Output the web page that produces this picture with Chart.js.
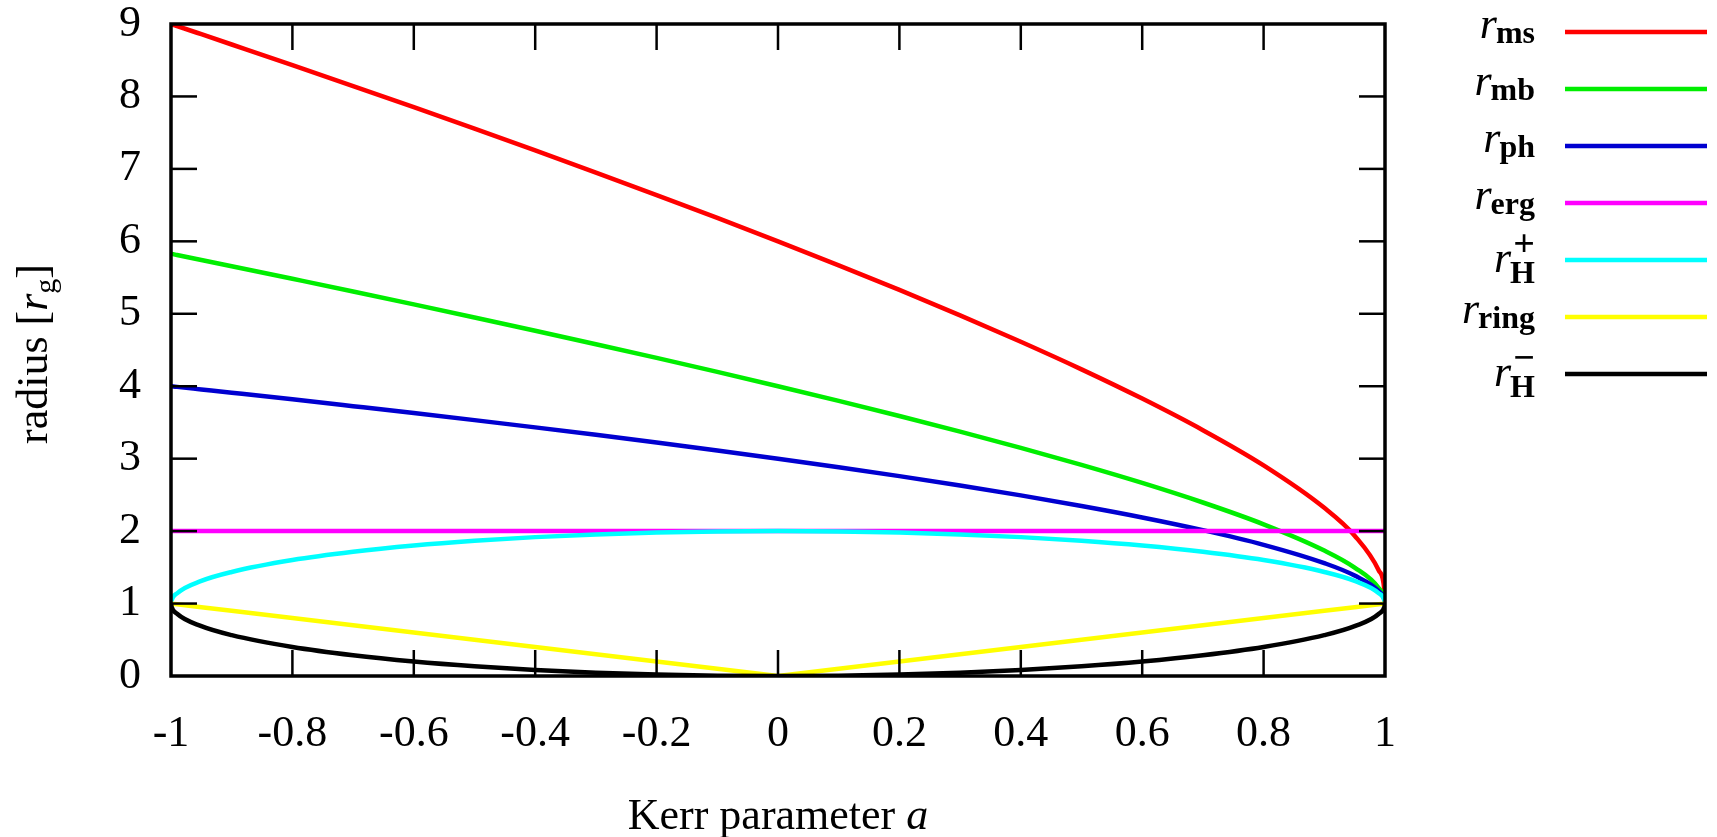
<!DOCTYPE html>
<html>
<head>
<meta charset="utf-8">
<script src="https://cdn.jsdelivr.net/npm/chart.js@4"></script>
<style>
html,body{margin:0;padding:0;background:#fff;overflow:hidden}
#wrap{position:relative;width:1717px;height:837px;background:#fff}
</style>
</head>
<body>
<div id="wrap"><canvas id="c"></canvas></div>
<script>
// ---- data ----
const kerrA = [-1, -0.999, -0.99, -0.95, -0.9, -0.8, -0.7, -0.6, -0.5, -0.4, -0.3, -0.2, -0.1, 0, 0.1, 0.2, 0.3, 0.4, 0.5, 0.6, 0.7, 0.8, 0.9, 0.95, 0.99, 0.999, 1];
const rMs   = [9, 8.997, 8.972, 8.859, 8.717, 8.432, 8.143, 7.851, 7.555, 7.254, 6.949, 6.639, 6.323, 6, 5.669, 5.329, 4.979, 4.614, 4.233, 3.829, 3.393, 2.907, 2.321, 1.937, 1.454, 1.182, 1];
const rMb   = [5.828, 5.827, 5.811, 5.743, 5.657, 5.483, 5.308, 5.130, 4.949, 4.766, 4.580, 4.391, 4.198, 4, 3.797, 3.589, 3.373, 3.149, 2.914, 2.665, 2.395, 2.094, 1.732, 1.497, 1.21, 1.064, 1];
const rPh   = [4, 3.999, 3.991, 3.955, 3.910, 3.819, 3.725, 3.630, 3.532, 3.432, 3.329, 3.223, 3.113, 3, 2.882, 2.759, 2.630, 2.493, 2.347, 2.189, 2.013, 1.811, 1.558, 1.386, 1.168, 1.052, 1];
const rErg  = [2, 2, 2, 2, 2, 2, 2, 2, 2, 2, 2, 2, 2, 2, 2, 2, 2, 2, 2, 2, 2, 2, 2, 2, 2, 2, 2];
const rHp   = [1, 1.045, 1.141, 1.312, 1.436, 1.6, 1.714, 1.8, 1.866, 1.917, 1.954, 1.980, 1.995, 2, 1.995, 1.980, 1.954, 1.917, 1.866, 1.8, 1.714, 1.6, 1.436, 1.312, 1.141, 1.045, 1];
const rRing = [1, 0.999, 0.99, 0.95, 0.9, 0.8, 0.7, 0.6, 0.5, 0.4, 0.3, 0.2, 0.1, 0, 0.1, 0.2, 0.3, 0.4, 0.5, 0.6, 0.7, 0.8, 0.9, 0.95, 0.99, 0.999, 1];
const rHm   = [1, 0.955, 0.859, 0.688, 0.564, 0.4, 0.286, 0.2, 0.134, 0.083, 0.046, 0.020, 0.005, 0, 0.005, 0.020, 0.046, 0.083, 0.134, 0.2, 0.286, 0.4, 0.564, 0.688, 0.859, 0.955, 1];

const seriesSubs = ['ms', 'mb', 'ph', 'erg', 'H', 'ring', 'H'];
const seriesSups = ['', '', '', '', '+', '', '\u2212'];
const seriesValues = [rMs, rMb, rPh, rErg, rHp, rRing, rHm];
const seriesColors = ['#ff0000', '#00ee00', '#0000d0', '#ff00ff', '#00ffff', '#ffff00', '#000000'];
const seriesStraight = [false, false, false, true, false, true, false];

const xTickValues = [-1, -0.8, -0.6, -0.4, -0.2, 0, 0.2, 0.4, 0.6, 0.8, 1];
const xTickLabels = ['-1', '-0.8', '-0.6', '-0.4', '-0.2', '0', '0.2', '0.4', '0.6', '0.8', '1'];
const yTickValues = [0, 1, 2, 3, 4, 5, 6, 7, 8, 9];
const yTickLabels = ['0', '1', '2', '3', '4', '5', '6', '7', '8', '9'];

const SERIF = '"Liberation Serif", "DejaVu Serif", serif';

const datasets = seriesValues.map((vals, i) => ({
  label: 'r_' + seriesSubs[i] + seriesSups[i],
  data: kerrA.map((a, j) => ({ x: a, y: vals[j] })),
  borderColor: seriesColors[i],
  backgroundColor: seriesColors[i],
  borderWidth: 4.5,
  pointRadius: 0,
  fill: false,
  tension: 0,
  cubicInterpolationMode: seriesStraight[i] ? 'default' : 'monotone',
  order: seriesValues.length - i
}));

function seg(ctx, x0, y0, x1, y1) {
  ctx.beginPath(); ctx.moveTo(x0, y0); ctx.lineTo(x1, y1); ctx.stroke();
}

const decor = {
  id: 'decor',
  afterDatasetsDraw(chart) {
    const { ctx, chartArea: ca, scales } = chart;
    const x = scales.x, y = scales.y;
    const TL = 26;
    ctx.save();
    ctx.strokeStyle = '#000';
    ctx.lineWidth = 2.5;
    xTickValues.forEach(v => {
      if (v === xTickValues[0] || v === xTickValues[xTickValues.length - 1]) return;
      const px = x.getPixelForValue(v);
      seg(ctx, px, ca.bottom, px, ca.bottom - TL);
      seg(ctx, px, ca.top, px, ca.top + TL);
    });
    yTickValues.forEach(v => {
      if (v === yTickValues[0] || v === yTickValues[yTickValues.length - 1]) return;
      const py = y.getPixelForValue(v);
      seg(ctx, ca.left, py, ca.left + TL, py);
      seg(ctx, ca.right, py, ca.right - TL, py);
    });
    ctx.lineWidth = 3.5;
    ctx.strokeRect(ca.left, ca.top, ca.right - ca.left, ca.bottom - ca.top);
    ctx.restore();
  },
  afterDraw(chart) {
    const { ctx, chartArea: ca } = chart;
    ctx.save();
    ctx.fillStyle = '#000';
    ctx.textBaseline = 'alphabetic';

    // x title
    const xParts = [
      { t: 'Kerr parameter ', f: '44px ' + SERIF, dy: 0 },
      { t: 'a', f: 'italic 44px ' + SERIF, dy: 0 }
    ];
    let w = 0;
    xParts.forEach(p => { ctx.font = p.f; p.w = ctx.measureText(p.t).width; w += p.w; });
    let cx = (ca.left + ca.right) / 2 - w / 2;
    ctx.textAlign = 'left';
    xParts.forEach(p => { ctx.font = p.f; ctx.fillText(p.t, cx, 829 + p.dy); cx += p.w; });

    // y title (rotated)
    const yParts = [
      { t: 'radius [', f: '44px ' + SERIF, dy: 0 },
      { t: 'r', f: 'italic 44px ' + SERIF, dy: 0 },
      { t: 'g', f: '30px ' + SERIF, dy: 8 },
      { t: ']', f: '44px ' + SERIF, dy: 0 }
    ];
    w = 0;
    yParts.forEach(p => { ctx.font = p.f; p.w = ctx.measureText(p.t).width; w += p.w; });
    ctx.save();
    ctx.translate(47, (ca.top + ca.bottom) / 2 + 4);
    ctx.rotate(-Math.PI / 2);
    cx = -w / 2;
    yParts.forEach(p => { ctx.font = p.f; ctx.fillText(p.t, cx, p.dy); cx += p.w; });
    ctx.restore();

    // legend
    const rowY0 = 32, rowStep = 57, textRight = 1535, lineX0 = 1565, lineX1 = 1707;
    seriesSubs.forEach((sub, i) => {
      const cy = rowY0 + rowStep * i;
      const sup = seriesSups[i];
      const hasSup = sup !== '';
      const rBase = cy + (hasSup ? 12 : 6);
      const subBase = cy + (hasSup ? 23 : 11);
      ctx.textAlign = 'right';
      ctx.font = 'bold 32px ' + SERIF;
      const subW = ctx.measureText(sub).width;
      ctx.fillText(sub, textRight, subBase);
      let supW = 0;
      if (hasSup) {
        ctx.font = 'bold 38px ' + SERIF;
        supW = ctx.measureText(sup).width;
        ctx.fillText(sup, textRight, cy - 4);
      }
      ctx.font = 'italic 44px ' + SERIF;
      ctx.fillText('r', textRight - Math.max(subW, supW) + 1, rBase);
      ctx.strokeStyle = seriesColors[i];
      ctx.lineWidth = 4.5;
      seg(ctx, lineX0, cy, lineX1, cy);
    });
    ctx.restore();
  }
};

new Chart(document.getElementById('c'), {
  type: 'line',
  data: { datasets },
  options: {
    responsive: true,
    maintainAspectRatio: false,
    animation: false,
    devicePixelRatio: 1,
    layout: { padding: { top: 24, right: 332, bottom: 0, left: 0 } },
    plugins: { legend: { display: false }, tooltip: { enabled: false } },
    scales: {
      x: {
        type: 'linear',
        min: -1, max: 1,
        afterBuildTicks: s => { s.ticks = xTickValues.map(v => ({ value: v })); },
        afterFit: s => { s.height = 161; s.paddingLeft = 0; s.paddingRight = 0; },
        ticks: {
          callback: (v) => xTickLabels[xTickValues.indexOf(v)],
          font: { family: SERIF, size: 44 },
          color: '#000',
          padding: 32,
          maxRotation: 0,
          autoSkip: false
        },
        grid: { display: false, drawTicks: false },
        border: { display: false }
      },
      y: {
        type: 'linear',
        min: 0, max: 9,
        afterBuildTicks: s => { s.ticks = yTickValues.map(v => ({ value: v })); },
        afterFit: s => { s.width = 171; s.paddingTop = 0; s.paddingBottom = 0; },
        ticks: {
          callback: (v) => yTickLabels[yTickValues.indexOf(v)],
          font: { family: SERIF, size: 44 },
          color: '#000',
          padding: 30,
          autoSkip: false
        },
        grid: { display: false, drawTicks: false },
        border: { display: false }
      }
    }
  },
  plugins: [decor]
});
</script>
</body>
</html>
